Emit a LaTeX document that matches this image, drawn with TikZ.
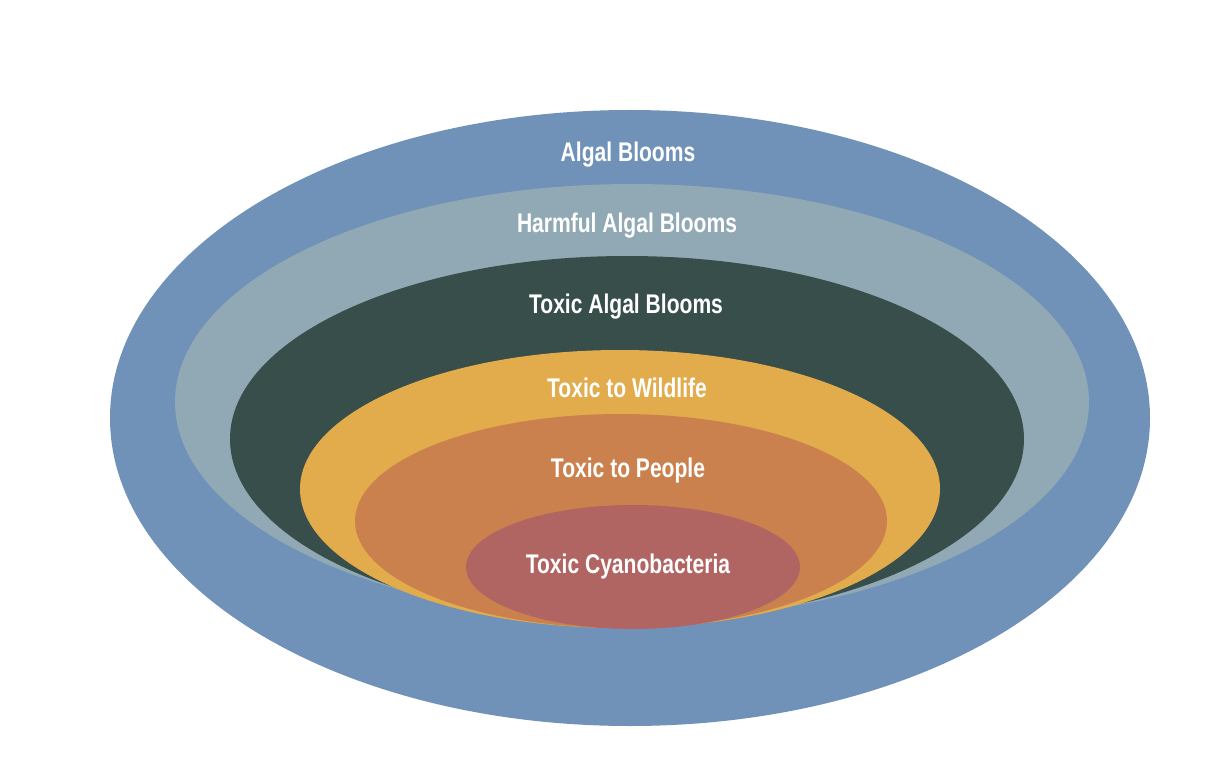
\documentclass[tikz,border=0pt]{standalone}
\usepackage{fontspec}
\setmainfont{Liberation Sans}[FakeStretch=0.78]
\begin{document}
\begin{tikzpicture}[x=1pt,y=-1pt,
 lab/.style={text=white,font=\bfseries\fontsize{27}{30}\selectfont,inner sep=0pt}]
\useasboundingbox (0,0) rectangle (1208,778);
\definecolor{c1}{HTML}{7092B8}\definecolor{c2}{HTML}{91A9B4}
\definecolor{c3}{HTML}{374E4A}\definecolor{c4}{HTML}{E2AC4C}
\definecolor{c5}{HTML}{CB814E}\definecolor{c6}{HTML}{B06563}
\fill[c1] (630,418) ellipse [x radius=520,y radius=308];
\fill[c2] (632,402) ellipse [x radius=457,y radius=218];
\fill[c3] (627,439) ellipse [x radius=397,y radius=183];
\fill[c4] (620,489) ellipse [x radius=320,y radius=139];
\fill[c5] (621,521) ellipse [x radius=266,y radius=107];
\fill[c6] (633,567) ellipse [x radius=167,y radius=62];
\node[lab] (a) at (628,155) {Algal Blooms};
\node[lab] (b) at (627,226) {Harmful Algal Blooms};
\node[lab] (c) at (626,307) {Toxic Algal Blooms};
\node[lab] (d) at (627,388) {Toxic to Wildlife};
\node[lab] (e) at (628,471) {Toxic to People};
\node[lab] (f) at (628,567) {Toxic Cyanobacteria};
\end{tikzpicture}
\end{document}
